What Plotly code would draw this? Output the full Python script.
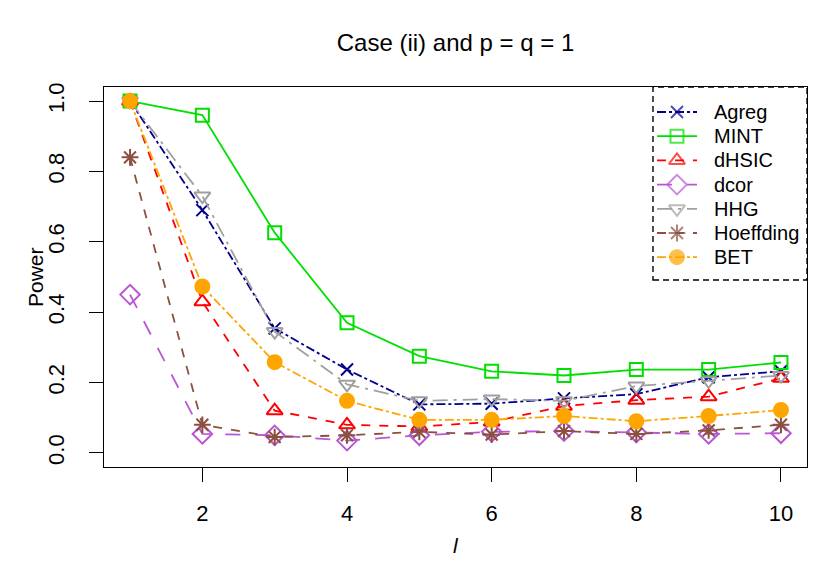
import plotly.graph_objects as go

l_vals = [1, 2, 3, 4, 5, 6, 7, 8, 9, 10]
agreg = [1.0, 0.69, 0.354, 0.237, 0.138, 0.14, 0.155, 0.167, 0.215, 0.232]
mint = [1.0, 0.96, 0.626, 0.37, 0.275, 0.232, 0.22, 0.237, 0.237, 0.257]
dhsic = [1.0, 0.43, 0.12, 0.08, 0.075, 0.088, 0.133, 0.15, 0.16, 0.212]
dcor = [0.45, 0.054, 0.05, 0.035, 0.05, 0.06, 0.062, 0.058, 0.054, 0.056]
hhg = [1.0, 0.73, 0.345, 0.195, 0.148, 0.153, 0.148, 0.19, 0.205, 0.22]
hoeffding = [0.84, 0.08, 0.045, 0.05, 0.06, 0.052, 0.062, 0.054, 0.064, 0.08]
bet = [1.0, 0.473, 0.258, 0.148, 0.094, 0.094, 0.105, 0.09, 0.105, 0.122]

series = [
    ("Agreg", agreg, "#00008B", "dashdot", "x-thin-open", 12),
    ("MINT", mint, "#00E000", "solid", "square-open", 13),
    ("dHSIC", dhsic, "#FF0000", "dash", "triangle-up-open", 14),
    ("dcor", dcor, "#BA55D3", "longdash", "diamond-open", 15),
    ("HHG", hhg, "#A0A0A0", "longdashdot", "triangle-down-open", 14),
    ("Hoeffding", hoeffding, "#8B5040", "dash", "asterisk-open", 14),
    ("BET", bet, "#FFA500", "dashdot", "circle", 14),
]

# plot box in pixels (layout only)
L, R, T, B = 104, 807, 87, 467
W, H = 836, 573
# legend box in pixels
LX0, LX1, LY0, LY1 = 653, 807, 87, 280

fig = go.Figure()
annotations = []
for i, (name, vals, col, dash, sym, sz) in enumerate(series):
    fig.add_trace(go.Scatter(
        x=l_vals, y=vals, name=name, mode="lines+markers", showlegend=False,
        line=dict(color=col, dash=dash, width=1.8),
        marker=dict(symbol=sym, size=sz, color=col, line=dict(color=col, width=2)),
    ))
    # legend sample drawn on a hidden overlay axis in pixel units
    yy = 112 + i * 24.2
    fig.add_trace(go.Scatter(
        x=[657, 677, 697], y=[yy, yy, yy], xaxis="x2", yaxis="y2", mode="lines+markers",
        showlegend=False, hoverinfo="skip",
        line=dict(color=col, dash=dash, width=1.8),
        marker=dict(symbol=sym, size=[0, sz, 0], color=col, line=dict(color=col, width=2)),
    ))
    annotations.append(dict(text=name, xref="x2", yref="y2", x=712, y=yy, showarrow=False,
                            xanchor="left", yanchor="middle", font=dict(size=20)))

font = "Liberation Sans, Arial, sans-serif"
annotations += [
    dict(text="Power", xref="paper", yref="paper", x=(35 - L) / (R - L), y=0.5,
         textangle=-90, showarrow=False, font=dict(size=21), xanchor="center", yanchor="middle"),
    dict(text="<i>l</i>", xref="paper", yref="paper", x=0.5, y=(B - 545) / (B - T),
         showarrow=False, font=dict(size=21), xanchor="center", yanchor="middle"),
]

fig.update_layout(
    width=W, height=H,
    margin=dict(l=L, r=W - R, t=T, b=H - B),
    plot_bgcolor="white", paper_bgcolor="white",
    font=dict(family=font, size=20, color="black"),
    title=dict(text="Case (ii) and p = q = 1", x=(L + R) / 2 / W, xanchor="center",
               y=1 - 43 / H, yanchor="middle", yref="container", font=dict(size=24)),
    showlegend=False,
    xaxis=dict(range=[0.64, 10.36], tickvals=[2, 4, 6, 8, 10], showgrid=False, zeroline=False,
               showline=True, mirror=True, linecolor="black", linewidth=1.3,
               ticks="outside", ticklen=14, tickwidth=1.2, tickcolor="black",
               tickfont=dict(size=22), ticklabelstandoff=12),
    yaxis=dict(range=[-0.04, 1.04], tickvals=[0, 0.2, 0.4, 0.6, 0.8, 1.0],
               ticktext=["0.0", "0.2", "0.4", "0.6", "0.8", "1.0"], tickangle=-90,
               showgrid=False, zeroline=False,
               showline=True, mirror=True, linecolor="black", linewidth=1.3,
               ticks="outside", ticklen=14, tickwidth=1.2, tickcolor="black",
               tickfont=dict(size=22), ticklabelstandoff=16),
    xaxis2=dict(domain=[(LX0 - L) / (R - L), 1], range=[LX0, LX1], visible=False,
                anchor="y2", fixedrange=True),
    yaxis2=dict(domain=[(B - LY1) / (B - T), 1], range=[LY1, LY0], visible=False,
                anchor="x2", fixedrange=True),
    shapes=[dict(type="rect", xref="paper", yref="paper", x0=(LX0 - L) / (R - L), x1=1,
                 y0=(B - LY1) / (B - T), y1=1,
                 line=dict(color="black", width=1.4, dash="6px,4px"),
                 layer="above")],
    annotations=annotations,
)
fig.write_html("out.html")
